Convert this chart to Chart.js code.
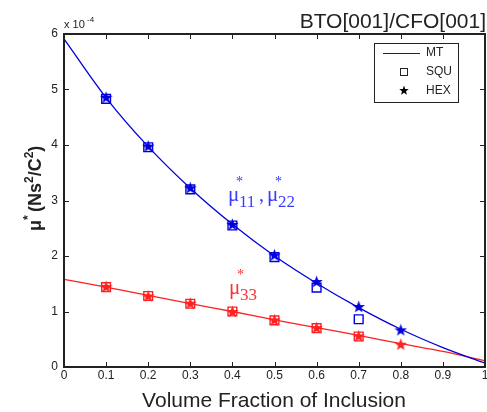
<!DOCTYPE html>
<html>
<head>
<meta charset="utf-8">
<script src="https://cdn.jsdelivr.net/npm/chart.js@4.4.1/dist/chart.umd.min.js"></script>
<style>
  html, body { margin: 0; padding: 0; background: #fff; }
  #wrap { width: 487px; height: 412px; }
</style>
</head>
<body>
<div id="wrap"><canvas id="chart" width="487" height="412"></canvas></div>
<script>
// ── data (y in units of 1e-4 Ns²/C²) ──
const mtX      = [0, 0.1, 0.2, 0.3, 0.4, 0.5, 0.6, 0.7, 0.8, 0.9, 1.0];
const mt11     = [5.91, 4.85, 3.97, 3.22, 2.57, 2.00, 1.51, 1.07, 0.68, 0.35, 0.07];
const mt33     = [1.58, 1.44, 1.29, 1.14, 1.00, 0.85, 0.71, 0.57, 0.42, 0.28, 0.11];

const squX     = [0.1, 0.2, 0.3, 0.4, 0.5, 0.6, 0.7];
const squ11    = [4.83, 3.96, 3.20, 2.55, 1.98, 1.43, 0.86];
const squ33    = [1.44, 1.28, 1.14, 1.00, 0.84, 0.70, 0.55];

const hexX     = [0.1, 0.2, 0.3, 0.4, 0.5, 0.6, 0.7, 0.8];
const hex11    = [4.86, 3.98, 3.23, 2.57, 2.02, 1.54, 1.09, 0.67];
const hex33    = [1.45, 1.28, 1.15, 1.00, 0.85, 0.71, 0.56, 0.41];

const xTicks   = [0, 0.1, 0.2, 0.3, 0.4, 0.5, 0.6, 0.7, 0.8, 0.9, 1];
const xLabels  = ['0', '0.1', '0.2', '0.3', '0.4', '0.5', '0.6', '0.7', '0.8', '0.9', '1'];
const yTicks   = [0, 1, 2, 3, 4, 5, 6];

const BLUE = '#0000dd';
const RED  = '#ff2020';
const INK  = '#222';

const pts = (xs, ys) => xs.map((x, i) => ({ x, y: ys[i] }));

// filled five-point star marker
function starImg(color, size) {
  const c = document.createElement('canvas');
  c.width = size; c.height = size;
  const g = c.getContext('2d');
  const cx = size / 2, cy = size / 2 + 0.6, R = size / 2, r = R * 0.42;
  g.beginPath();
  for (let i = 0; i < 10; i++) {
    const a = -Math.PI / 2 + i * Math.PI / 5;
    const rr = i % 2 ? r : R;
    g.lineTo(cx + rr * Math.cos(a), cy + rr * Math.sin(a));
  }
  g.closePath();
  g.fillStyle = color;
  g.fill();
  return c;
}

const decor = {
  id: 'decor',
  afterDraw(chart) {
    const { ctx, chartArea: a, scales } = chart;
    const sx = scales.x, sy = scales.y;
    ctx.save();
    // box
    ctx.strokeStyle = INK;
    ctx.lineWidth = 2;
    ctx.strokeRect(a.left, a.top, a.right - a.left, a.bottom - a.top);
    // inward ticks on all sides
    ctx.lineWidth = 1;
    ctx.beginPath();
    xTicks.forEach(v => {
      const px = Math.round(sx.getPixelForValue(v)) + 0.5;
      ctx.moveTo(px, a.bottom); ctx.lineTo(px, a.bottom - 5);
      ctx.moveTo(px, a.top); ctx.lineTo(px, a.top + 5);
    });
    yTicks.forEach(v => {
      const py = Math.round(sy.getPixelForValue(v)) + 0.5;
      ctx.moveTo(a.left, py); ctx.lineTo(a.left + 5, py);
      ctx.moveTo(a.right, py); ctx.lineTo(a.right - 5, py);
    });
    ctx.stroke();

    ctx.fillStyle = INK;
    // x tick labels
    ctx.font = '12px Arial';
    ctx.textAlign = 'center';
    ctx.textBaseline = 'top';
    xTicks.forEach((v, i) => ctx.fillText(xLabels[i], sx.getPixelForValue(v), a.bottom + 3));

    // exponent
    ctx.font = '11px Arial';
    ctx.textBaseline = 'alphabetic';
    ctx.textAlign = 'left';
    ctx.fillText('x 10', 64, 28);
    ctx.font = '8px Arial';
    ctx.fillText('-4', 87, 22);
    // title
    ctx.font = '21px Arial';
    ctx.textAlign = 'right';
    ctx.fillText('BTO[001]/CFO[001]', 486, 28);
    // x title
    ctx.font = '21px Arial';
    ctx.textAlign = 'center';
    ctx.fillText('Volume Fraction of Inclusion', 274, 407);
    // y title (rotated, bold)
    ctx.save();
    ctx.translate(41, 187);
    ctx.rotate(-Math.PI / 2);
    ctx.font = 'bold 18px Arial';
    ctx.textAlign = 'left';
    let xx = -44;
    ctx.fillText('\u03bc', xx, 0); xx += ctx.measureText('\u03bc').width;
    ctx.font = 'bold 12px Arial';
    ctx.fillText('*', xx, -9); xx += ctx.measureText('* ').width;
    ctx.font = 'bold 18px Arial';
    ctx.fillText('(Ns', xx, 0); xx += ctx.measureText('(Ns').width;
    ctx.font = 'bold 12px Arial';
    ctx.fillText('2', xx, -8); xx += ctx.measureText('2').width;
    ctx.font = 'bold 18px Arial';
    ctx.fillText('/C', xx, 0); xx += ctx.measureText('/C').width;
    ctx.font = 'bold 12px Arial';
    ctx.fillText('2', xx, -8); xx += ctx.measureText('2').width;
    ctx.font = 'bold 18px Arial';
    ctx.fillText(')', xx, 0);
    ctx.restore();

    // annotations
    const mu = (x, y, subs, color) => {
      ctx.fillStyle = color;
      ctx.textAlign = 'left';
      ctx.font = '21px "Liberation Serif", serif';
      ctx.fillText('\u03bc', x, y);
      ctx.font = '14px "Liberation Serif", serif';
      ctx.fillText('*', x + 8, y - 15);
      ctx.font = '17px "Liberation Serif", serif';
      ctx.fillText(subs, x + 11, y + 6);
    };
    mu(228, 201, '11', '#3a3aff');
    ctx.font = '20px "Liberation Serif", serif';
    ctx.fillText(',', 259, 201);
    mu(267, 201, '22', '#3a3aff');
    mu(229, 294, '33', '#ff3030');

    // legend
    ctx.fillStyle = '#fff';
    ctx.fillRect(374, 43, 84, 59);
    ctx.strokeStyle = INK;
    ctx.lineWidth = 1;
    ctx.strokeRect(374.5, 43.5, 84, 59);
    ctx.beginPath();
    ctx.moveTo(383, 53.5); ctx.lineTo(420, 53.5);
    ctx.stroke();
    ctx.strokeRect(400.5, 68.5, 7, 7);
    ctx.drawImage(starImg('#000', 10), 399, 85);
    ctx.fillStyle = INK;
    ctx.font = '12px Arial';
    ctx.textAlign = 'left';
    ctx.textBaseline = 'middle';
    ctx.fillText('MT', 426, 53);
    ctx.fillText('SQU', 426, 72);
    ctx.fillText('HEX', 426, 91);
    ctx.restore();
  }
};

const lineDs = (data, color) => ({
  type: 'line', data, borderColor: color, borderWidth: 1.3,
  pointRadius: 0, fill: false, tension: 0.4, cubicInterpolationMode: 'monotone', order: 3
});
const squDs = (data, color) => ({
  type: 'scatter', data, showLine: false, pointStyle: 'rect', pointRadius: 6.2,
  borderColor: color, borderWidth: 1.4, backgroundColor: 'rgba(0,0,0,0)', order: 2
});
const hexDs = (data, color) => ({
  type: 'scatter', data, showLine: false, pointStyle: starImg(color, 13),
  pointRadius: 6, borderColor: color, backgroundColor: color, order: 1
});

new Chart(document.getElementById('chart'), {
  type: 'scatter',
  data: {
    datasets: [
      lineDs(pts(mtX, mt11), BLUE),
      lineDs(pts(mtX, mt33), RED),
      squDs(pts(squX, squ11), BLUE),
      squDs(pts(squX, squ33), RED),
      hexDs(pts(hexX, hex11), BLUE),
      hexDs(pts(hexX, hex33), RED),
    ]
  },
  plugins: [decor],
  options: {
    responsive: false,
    animation: false,
    layout: { autoPadding: false, padding: { top: 34, right: 2, left: 0, bottom: 0 } },
    plugins: { legend: { display: false }, tooltip: { enabled: false } },
    scales: {
      x: {
        type: 'linear', min: 0, max: 1,
        afterBuildTicks: s => { s.ticks = xTicks.map(v => ({ value: v })); },
        afterFit: s => { s.height = 45; },
        grid: { display: false, drawTicks: false },
        border: { display: false },
        ticks: { display: false }
      },
      y: {
        type: 'linear', min: 0, max: 6,
        afterBuildTicks: s => { s.ticks = yTicks.map(v => ({ value: v })); },
        afterFit: s => { s.width = 64; },
        grid: { display: false, drawTicks: false },
        border: { display: false },
        ticks: { padding: 6, color: INK, font: { family: 'Arial', size: 12 } }
      }
    }
  }
});
</script>
</body>
</html>
